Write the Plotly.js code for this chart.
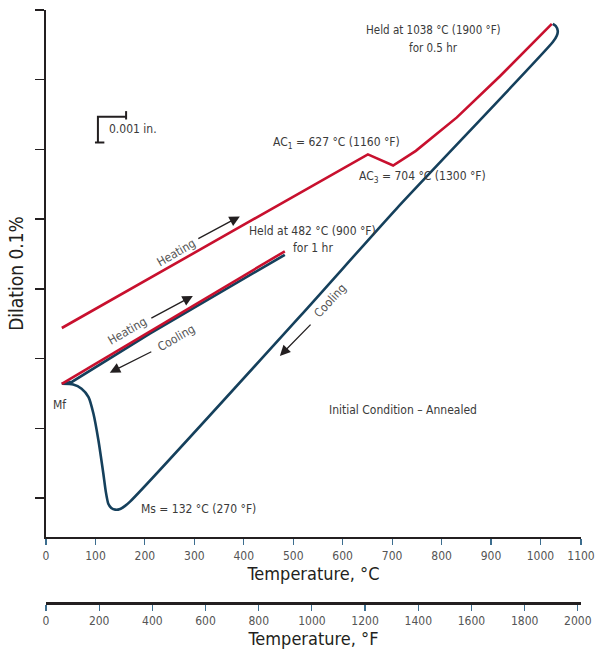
<!DOCTYPE html>
<html>
<head>
<meta charset="utf-8">
<script src="https://cdn.plot.ly/plotly-3.0.1.min.js"></script>
<style>html,body{margin:0;padding:0;background:#fff;}#chart{width:597px;height:652px;}</style>
</head>
<body>
<div id="chart"></div>
<script>
// ---- data (temperature °C, dilation in axis-tick units) ----
const heat1C = [32, 483];
const heat1D = [1.64, 3.54];

const cool1C = [483, 210, 53, 32];
const cool1D = [3.49, 2.36, 1.67, 1.64];

const heat2C = [32, 651, 702, 748, 831, 918, 1023];
const heat2D = [2.44, 4.93, 4.77, 4.98, 5.46, 6.05, 6.80];

const cool2C = [1025, 1031, 1035, 1033, 1025, 710, 514, 170, 160, 150, 140, 132, 126, 121, 116, 106, 96, 86, 72, 55, 32];
const cool2D = [6.80, 6.77, 6.70, 6.63, 6.54, 4.16, 2.61, -0.05, -0.11, -0.155, -0.165, -0.14, -0.08, 0.09, 0.35, 0.83, 1.21, 1.45, 1.57, 1.63, 1.64];

const cTickVals = [0, 100, 200, 300, 400, 500, 600, 700, 800, 900, 1000, 1082];
const cTickText = ["0", "100", "200", "300", "400", "500", "600", "700", "800", "900", "1000", "1100"];
const fTickVals = [0, 200, 400, 600, 800, 1000, 1200, 1400, 1600, 1800, 2000];
const yTickVals = [0, 1, 2, 3, 4, 5, 6, 7];

const RED = "#c8102e";
const BLUE = "#15405c";
const FONT = "Liberation Sans Narrow, DejaVu Sans Condensed, Arial Narrow, sans-serif";
const TXT = "#3a3a3a";

const traces = [
  {x: heat2C, y: heat2D, mode: "lines", line: {color: RED, width: 2.6}, hoverinfo: "skip"},
  {x: cool2C, y: cool2D, mode: "lines", line: {color: BLUE, width: 2.6, shape: "spline", smoothing: 0.6}, hoverinfo: "skip"},
  {x: cool1C, y: cool1D, mode: "lines", line: {color: BLUE, width: 2.6}, hoverinfo: "skip"},
  {x: heat1C, y: heat1D, mode: "lines", line: {color: RED, width: 2.6}, hoverinfo: "skip"},
  {x: [fTickVals[0], fTickVals[fTickVals.length - 1]], y: [null, null], xaxis: "x2", mode: "lines", hoverinfo: "skip"}
];

function txt(x, y, text, opts) {
  return Object.assign({x: x, y: y, xref: "x", yref: "y", text: text, showarrow: false,
    font: {family: FONT, size: 12, color: TXT}}, opts || {});
}
function arrow(x0, y0, x1, y1) {
  return {x: x1, y: y1, ax: x0, ay: y0, xref: "x", yref: "y", axref: "x", ayref: "y",
    text: "", showarrow: true, arrowhead: 2, arrowsize: 1.6, arrowwidth: 1.3, arrowcolor: "#231f20"};
}

const annotations = [
  txt(783, 6.72, "Held at 1038 °C (1900 °F)", {font: {family: FONT, size: 11.5, color: TXT}}),
  txt(783, 6.46, "for 0.5 hr", {font: {family: FONT, size: 11.5, color: TXT}}),
  txt(124, 5.29, "0.001 in.", {xanchor: "left"}),
  txt(588, 5.09, "AC<sub>1</sub> = 627 °C (1160 °F)"),
  txt(762, 4.60, "AC<sub>3</sub> = 704 °C (1300 °F)"),
  txt(538, 3.83, "Held at 482 °C (900 °F)"),
  txt(540, 3.59, "for 1 hr"),
  txt(262, 3.52, "Heating", {textangle: -30, font: {family: FONT, size: 12, color: "#555"}}),
  txt(164, 2.40, "Heating", {textangle: -30, font: {family: FONT, size: 12, color: "#555"}}),
  txt(263, 2.30, "Cooling", {textangle: -30, font: {family: FONT, size: 12, color: "#555"}}),
  txt(574, 2.83, "Cooling", {textangle: -47, font: {family: FONT, size: 12, color: "#555"}}),
  txt(28, 1.33, "Mf"),
  txt(309, -0.16, "Ms = 132 °C (270 °F)"),
  txt(722, 1.27, "Initial Condition – Annealed"),
  arrow(305, 3.71, 392, 4.04),
  arrow(210, 2.57, 297, 2.90),
  arrow(216, 2.11, 129, 1.80),
  arrow(538, 2.51, 473, 2.04)
];

const shapes = [
  {type: "path", xref: "x", yref: "y", path: "M 105,5.10 L 105,5.47 L 162,5.47", line: {color: "#231f20", width: 2}},
  {type: "line", xref: "x", yref: "y", x0: 99, x1: 118, y0: 5.10, y1: 5.10, line: {color: "#231f20", width: 2}},
  {type: "line", xref: "x", yref: "y", x0: 162, x1: 162, y0: 5.43, y1: 5.55, line: {color: "#231f20", width: 2}}
];

const layout = {
  width: 597, height: 652,
  margin: {l: 46, r: 16, t: 10, b: 49},
  paper_bgcolor: "#fff", plot_bgcolor: "#fff",
  showlegend: false,
  font: {family: FONT, color: TXT},
  xaxis: {
    range: [0, 1082], tickvals: cTickVals, ticktext: cTickText,
    showline: true, linecolor: "#231f20", linewidth: 2.5, mirror: false,
    ticks: "outside", ticklen: 6, tickwidth: 1.2, tickcolor: "#3d6e8f",
    showgrid: false, zeroline: false,
    tickfont: {family: FONT, size: 12, color: "#555"},
    title: {text: "Temperature, °C", font: {family: FONT, size: 18, color: "#231f20"}, standoff: 5},
    anchor: "y"
  },
  xaxis2: {
    overlaying: "x", anchor: "free", position: 0, side: "bottom",
    range: [0, 2012], tickvals: fTickVals,
    showline: true, linecolor: "#231f20", linewidth: 2.5,
    ticks: "outside", ticklen: 6, tickwidth: 1.2, tickcolor: "#3d6e8f",
    showgrid: false, zeroline: false,
    tickfont: {family: FONT, size: 12, color: "#555"},
    title: {text: "Temperature, °F", font: {family: FONT, size: 18, color: "#231f20"}, standoff: 2}
  },
  yaxis: {
    domain: [0.1113, 1], range: [-0.557, 7.0],
    tickvals: yTickVals, showticklabels: false,
    showline: true, linecolor: "#231f20", linewidth: 2.5,
    ticks: "outside", ticklen: 9, tickwidth: 1.5, tickcolor: "#231f20",
    showgrid: false, zeroline: false,
    title: {text: "Dilation 0.1%", font: {family: FONT, size: 19, color: "#231f20"}, standoff: 6}
  },
  annotations: annotations,
  shapes: shapes
};

Plotly.newPlot("chart", traces, layout, {staticPlot: true, displayModeBar: false});
</script>
</body>
</html>
